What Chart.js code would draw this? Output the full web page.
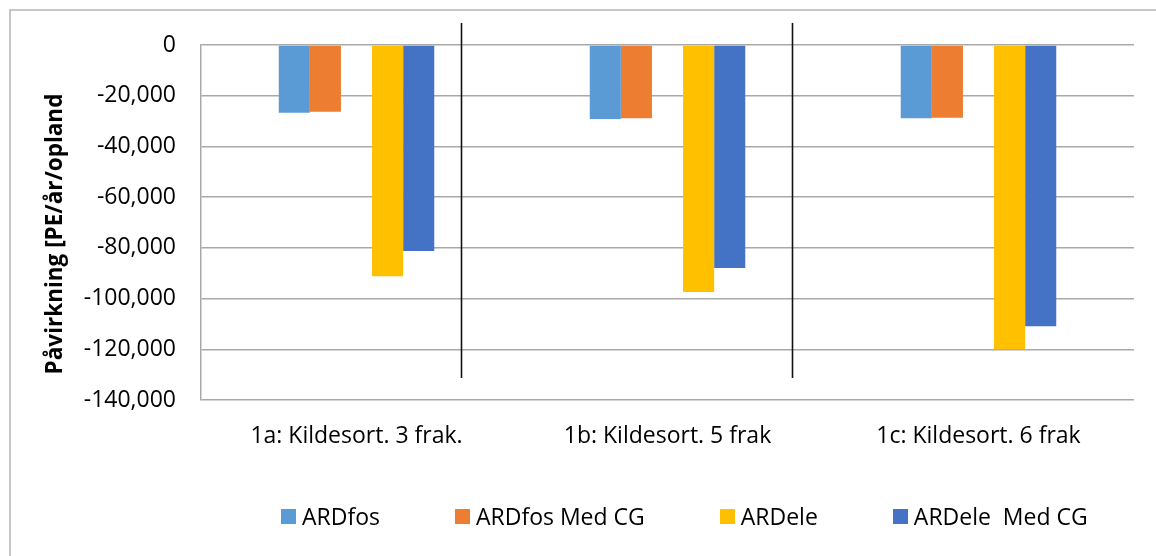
<!DOCTYPE html>
<html>
<head>
<meta charset="utf-8">
<script src="https://cdn.jsdelivr.net/npm/chart.js@4.4.1/dist/chart.umd.min.js"></script>
<style>
  html, body { margin: 0; padding: 0; background: #fff; }
  #wrap { position: relative; width: 1156px; height: 556px; overflow: hidden; }
  #chart { position: absolute; left: 0; top: 0; }
  #legend {
    position: absolute; left: 281px; top: 501px; height: 30px;
    display: flex; align-items: center; gap: 75px;
    font-family: 'Open Sans', sans-serif; font-size: 23px; color: #000;
    white-space: pre;
  }
  #legend .item { display: flex; align-items: center; }
  #legend .box { width: 15px; height: 15px; margin-right: 6px; flex: none; }
</style>
</head>
<body>
<div id="wrap">
  <canvas id="chart" width="1156" height="556"></canvas>
  <div id="legend"></div>
</div>
<script>
// Scenarios on the category axis
const categories = ['1a: Kildesort. 3 frak.', '1b: Kildesort. 5 frak', '1c: Kildesort. 6 frak'];

// Impact per scenario [PE/år/opland]
const ardFos      = [-26700, -29200, -28900];
const ardFosMedCG = [-26300, -28900, -28700];
const ardEle      = [-91200, -97400, -120000];
const ardEleMedCG = [-81200, -87900, -110900];

const seriesNames = ['ARDfos', 'ARDfos Med CG', 'ARDele', 'ARDele  Med CG'];
const seriesColors = ['#5B9BD5', '#ED7D31', '#FFC000', '#4472C4'];

// Value axis ticks
const yTickValues = [0, -20000, -40000, -60000, -80000, -100000, -120000, -140000];
const yAxisTitle = 'Påvirkning [PE/år/opland';

const FONT = "'Open Sans', sans-serif";

// Gray frame around the chart object (only its top and left edges fall inside the page)
const framePlugin = {
  id: 'frame',
  beforeDraw(chart) {
    const ctx = chart.ctx;
    ctx.save();
    ctx.fillStyle = '#fff';
    ctx.fillRect(0, 0, chart.width, chart.height);
    ctx.strokeStyle = '#b4b4b4';
    ctx.lineWidth = 1.5;
    ctx.strokeRect(10, 10, chart.width + 20, chart.height + 20);
    ctx.restore();
  }
};

// Vertical divider lines between the scenario groups
const dividerPlugin = {
  id: 'dividers',
  afterDatasetsDraw(chart, args, opts) {
    const {ctx, scales: {x, y}} = chart;
    ctx.save();
    ctx.strokeStyle = '#111';
    ctx.lineWidth = 1.6;
    const y0 = y.getPixelForValue(opts.from);
    const y1 = y.getPixelForValue(opts.to);
    opts.at.forEach(v => {
      const px = Math.round(x.getPixelForValue(v)) + 0.5;
      ctx.beginPath();
      ctx.moveTo(px, y0);
      ctx.lineTo(px, y1);
      ctx.stroke();
    });
    ctx.restore();
  }
};

// Rotated value-axis title
const yTitlePlugin = {
  id: 'yTitle',
  afterDraw(chart, args, opts) {
    const {ctx, chartArea} = chart;
    ctx.save();
    ctx.translate(opts.x, (chartArea.top + chartArea.bottom) / 2 + opts.dy);
    ctx.rotate(-Math.PI / 2);
    ctx.font = `bold ${opts.size}px ${FONT}`;
    ctx.fillStyle = '#000';
    ctx.textAlign = 'center';
    ctx.textBaseline = 'middle';
    ctx.fillText(opts.text, 0, 0);
    ctx.restore();
  }
};

const makeSet = (i, data) => ({
  label: seriesNames[i],
  data: data,
  backgroundColor: seriesColors[i],
  borderWidth: 0
});

const datasets = [
  makeSet(0, ardFos),
  makeSet(1, ardFosMedCG),
  // empty slot that keeps the gap between the two bar pairs
  { label: '', data: categories.map(() => null), backgroundColor: 'rgba(0,0,0,0)' },
  makeSet(2, ardEle),
  makeSet(3, ardEleMedCG)
];

const chart = new Chart(document.getElementById('chart'), {
  type: 'bar',
  data: { labels: categories, datasets },
  options: {
    responsive: false,
    animation: false,
    events: [],
    categoryPercentage: 0.5,
    barPercentage: 1.0,
    layout: { padding: { top: 45, right: 22, left: 0, bottom: 0 } },
    plugins: {
      legend: { display: false },
      tooltip: { enabled: false },
      dividers: { at: [0.335, 1.4], from: 8700, to: -131300 },
      yTitle: { text: yAxisTitle, x: 56, dy: 11.5, size: 22.5 }
    },
    scales: {
      x: {
        grid: { display: false, drawTicks: false },
        border: { display: false },
        ticks: { color: '#000', padding: 23, font: { family: FONT, size: 23 } },
        afterFit(scale) { scale.height = 156; }
      },
      y: {
        min: -140000,
        max: 0,
        afterBuildTicks(scale) { scale.ticks = yTickValues.map(v => ({ value: v })); },
        grid: { color: '#a9a9a9', lineWidth: 1.5, drawTicks: false },
        border: { display: true, color: '#a9a9a9', width: 1.5 },
        ticks: {
          color: '#000',
          padding: 25,
          font: { family: FONT, size: 23 },
          callback: v => v.toLocaleString('en-US')
        },
        afterFit(scale) { scale.width = 201; }
      }
    }
  },
  plugins: [framePlugin, dividerPlugin, yTitlePlugin]
});

// Legend row built from the chart's own datasets
const legendEl = document.getElementById('legend');
chart.data.datasets.forEach(ds => {
  if (!ds.label) return;
  const item = document.createElement('div');
  item.className = 'item';
  const box = document.createElement('span');
  box.className = 'box';
  box.style.background = ds.backgroundColor;
  const txt = document.createElement('span');
  txt.textContent = ds.label;
  item.appendChild(box);
  item.appendChild(txt);
  legendEl.appendChild(item);
});
</script>
</body>
</html>
